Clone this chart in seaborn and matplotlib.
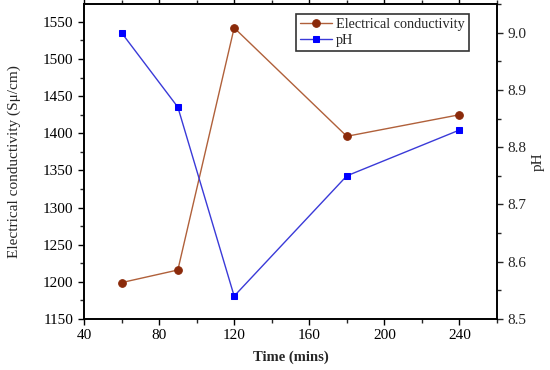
import matplotlib
matplotlib.use("Agg")
import matplotlib.pyplot as plt
import seaborn as sns
import pandas as pd
from matplotlib.ticker import MultipleLocator

time_mins = [60, 90, 120, 180, 240]
conductivity = [1199, 1216, 1542, 1396, 1425]
ph = [9.00, 8.87, 8.54, 8.75, 8.83]

sns.set_style("ticks")
plt.rcParams['font.family'] = ['Liberation Serif', 'DejaVu Serif']

df = pd.DataFrame({"time": time_mins, "ec": conductivity, "ph": ph})

fig = plt.figure(figsize=(5.5, 3.7), dpi=100)
ax = fig.add_axes([0.1527, 0.1378, 0.7509, 0.8512])
ax2 = ax.twinx()

sns.lineplot(data=df, x="time", y="ec", ax=ax, color="#b0603a", lw=1,
             marker="o", markersize=5.5, markerfacecolor="#8b2a0a",
             markeredgecolor="#8b2a0a", label="Electrical conductivity", legend=False)
sns.lineplot(data=df, x="time", y="ph", ax=ax2, color="#3a3ad8", lw=1,
             marker="s", markersize=5, markerfacecolor="#0000ff",
             markeredgecolor="#0000ff", label="pH", legend=False)

ax.set_xlim(40, 260)
ax.set_ylim(1150, 1574)
ax2.set_ylim(8.5, 9.05)
ax.xaxis.set_major_locator(MultipleLocator(40))
ax.xaxis.set_minor_locator(MultipleLocator(20))
ax.yaxis.set_major_locator(MultipleLocator(50))
ax.yaxis.set_minor_locator(MultipleLocator(25))
ax2.yaxis.set_major_locator(MultipleLocator(0.1))
ax2.yaxis.set_minor_locator(MultipleLocator(0.05))

ax.set_xlabel("Time (mins)", fontsize=10.5, fontweight="bold", labelpad=6)
ax.set_ylabel("Electrical conductivity (Sμ/cm)", fontsize=11, labelpad=16)
ax2.set_ylabel("pH", fontsize=11)

for a in (ax, ax2):
    for s in a.spines.values():
        s.set_color("black")
        s.set_linewidth(1.2)
ax.tick_params(axis="both", which="major", length=4, width=1, labelsize=11, direction="out", colors="black")
ax.tick_params(axis="both", which="minor", length=3, width=1, direction="out")
ax.tick_params(axis="x", which="both", top=True)
ax2.tick_params(axis="y", which="major", length=4, width=1, labelsize=11, direction="out")
ax2.tick_params(axis="y", which="minor", length=3, width=1, direction="out")

h1, l1 = ax.get_legend_handles_labels()
h2, l2 = ax2.get_legend_handles_labels()
leg = ax2.legend(h1 + h2, l1 + l2, loc="upper right", bbox_to_anchor=(0.932, 0.968),
                 fontsize=10.3, frameon=True, fancybox=False, edgecolor="black",
                 borderpad=0.3, labelspacing=0.15, handlelength=2.2, handletextpad=0.3,
                 borderaxespad=0.0)
leg.get_frame().set_linewidth(1.2)

fig.savefig("out.png", dpi=100)
